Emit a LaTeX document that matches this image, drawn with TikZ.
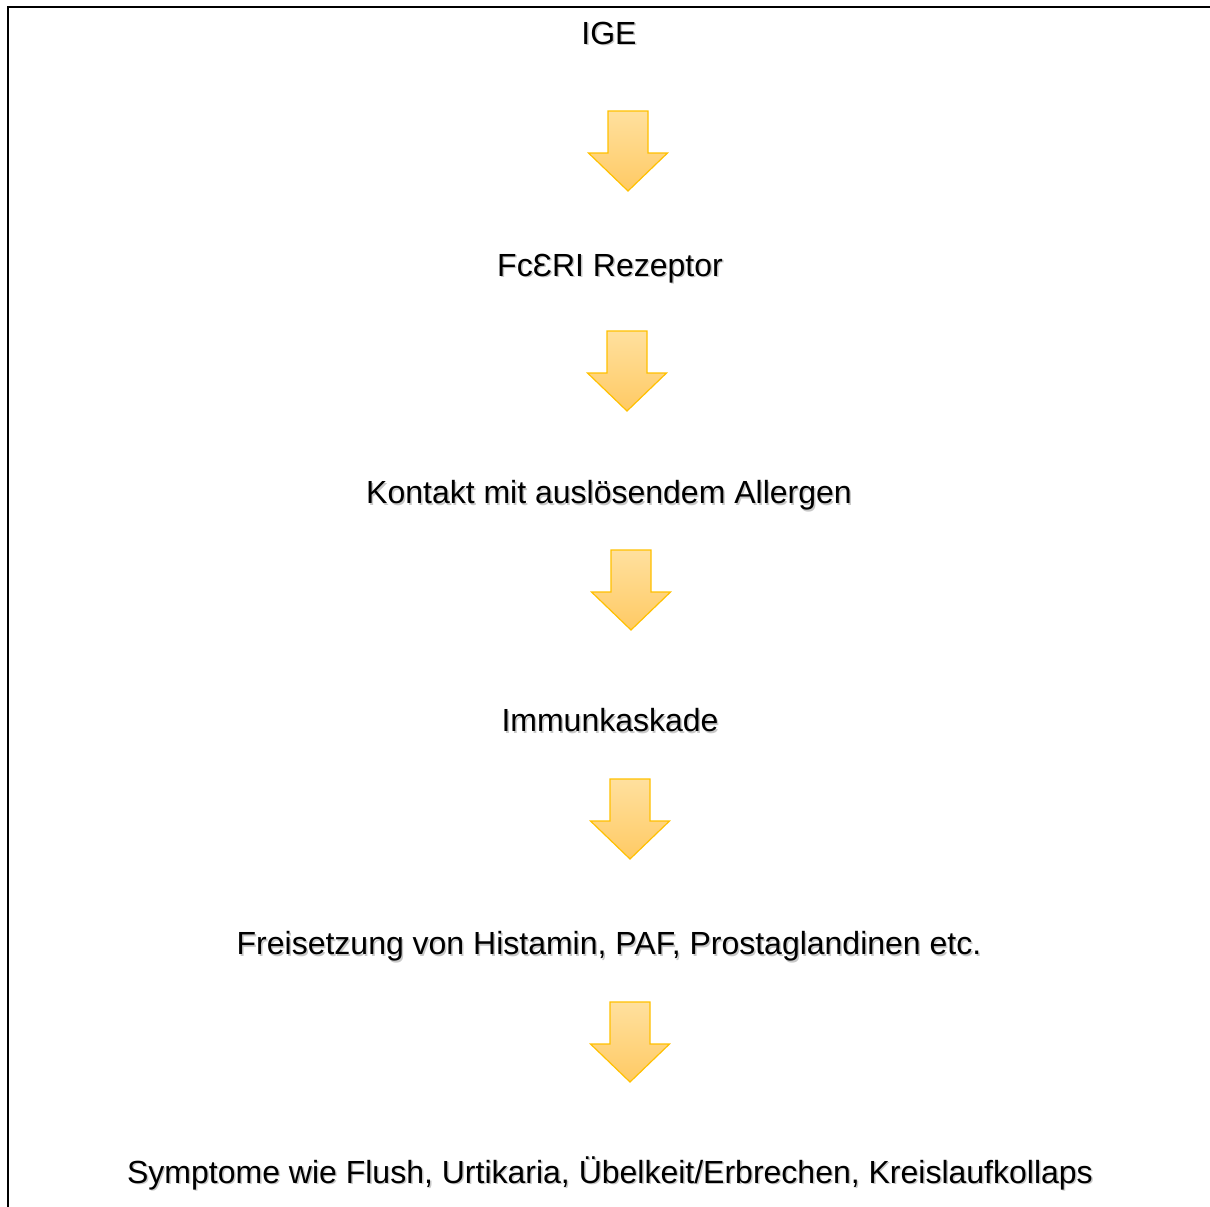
\documentclass[tikz,border=0pt]{standalone}
\usepackage{fontspec}
\setmainfont{Liberation Sans}
\definecolor{arrtop}{RGB}{255,224,158}
\definecolor{arrbot}{RGB}{255,202,100}
\definecolor{arrline}{RGB}{255,192,0}
\definecolor{shadowgray}{RGB}{200,200,200}
\newcommand{\shtext}[1]{\rlap{\raisebox{-1.5pt}{\hspace{1.5pt}\textcolor{shadowgray}{#1}}}#1}
\begin{document}
\begin{tikzpicture}[x=1pt,y=-1pt,
  lbl/.style={inner sep=0pt,font=\fontsize{32}{38}\selectfont,anchor=center},
  blockarr/.style={draw=arrline,line width=1.2pt,line join=miter,top color=arrtop,bottom color=arrbot,shading angle=0}]
\useasboundingbox (0,0) rectangle (1210,1207);
\draw[line width=2.8pt] (1210,7) -- (8,7) -- (8,1207);
\newcommand{\blockarrow}[3]{%
  % #1 = centre x, #2 = top y, #3 = name
  \path[blockarr] (#1-20,#2) -- (#1+20,#2) -- (#1+20,#2+42) -- (#1+39.5,#2+42) -- (#1,#2+80) -- (#1-39.5,#2+42) -- (#1-20,#2+42) -- cycle;
  \coordinate (#3) at (#1,#2);}
\node[lbl] (ige) at (609,34) {\shtext{IGE}};
\node[lbl] (fce) at (610,269) {\shtext{Fc\char"0190 RI Rezeptor}};
\node[lbl] (kon) at (609,496) {\shtext{Kontakt mit auslösendem Allergen}};
\node[lbl] (imm) at (610,721) {\shtext{Immunkaskade}};
\node[lbl] (frei) at (609,947) {\shtext{Freisetzung von Histamin, PAF, Prostaglandinen etc.}};
\node[lbl] (sym) at (610,1174) {\shtext{Symptome wie Flush, Urtikaria, Übelkeit/Erbrechen, Kreislaufkollaps}};
\blockarrow{628}{111}{a1}
\blockarrow{627}{331}{a2}
\blockarrow{631}{550}{a3}
\blockarrow{630}{779}{a4}
\blockarrow{630}{1002}{a5}
\end{tikzpicture}
\end{document}
